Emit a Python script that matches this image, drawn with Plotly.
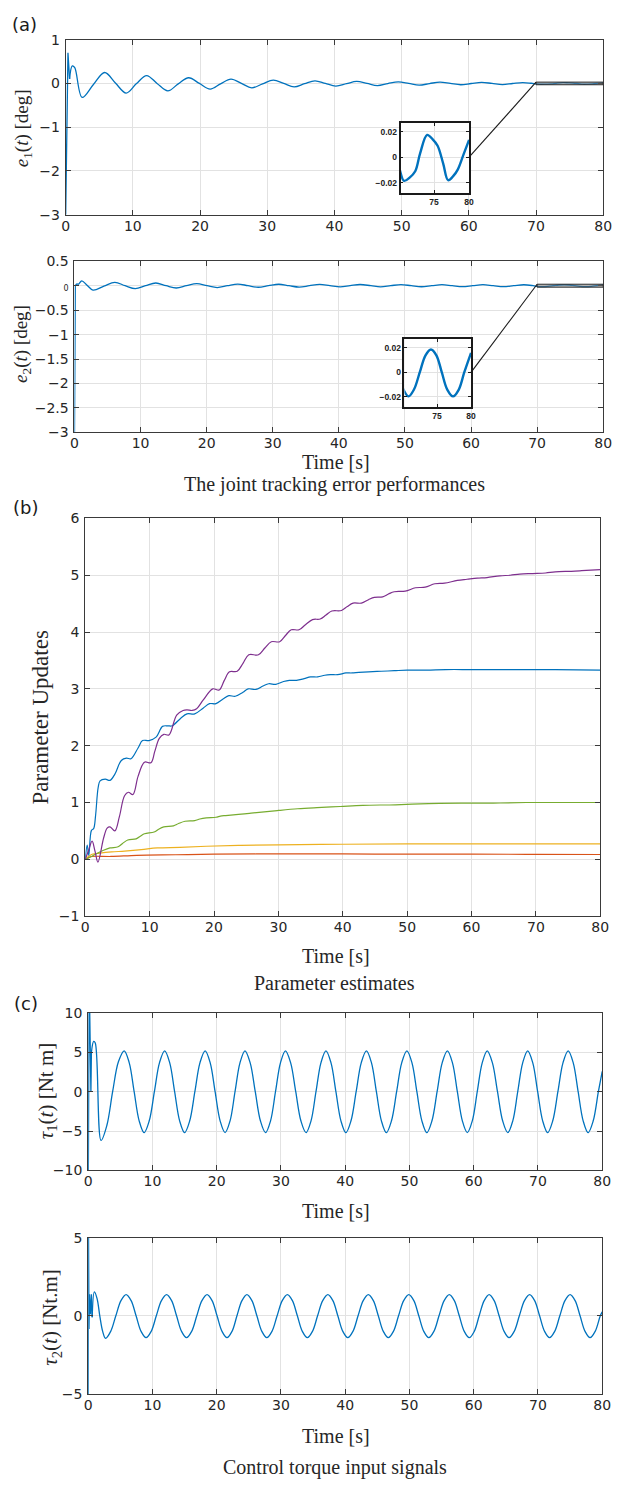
import plotly.graph_objects as go

# ------------------------------------------------------------------ data
X_TICKS = [0, 10, 20, 30, 40, 50, 60, 70, 80]

# (a) joint tracking errors  (first E*_N_LIN points = fast transient, drawn straight)
E1_T = [0.0, 0.34, 0.58,
        0.98, 1.35, 2.45, 4.1, 5.8, 7.4, 9.0, 10.5, 12.05, 13.6,
        15.2, 16.75, 18.3, 19.9, 21.5, 23.05, 24.6, 26.15, 27.7, 29.3,
        30.9, 32.45, 34.0, 35.55, 37.1, 38.65, 40.2, 41.8, 43.3, 44.85,
        46.4, 47.95, 49.5, 51.05, 52.6, 54.15, 55.7, 57.25, 58.8, 60.35,
        61.9, 63.45, 65.0, 66.5, 68.0, 69.3, 70.0, 70.7, 71.5, 72.3,
        73.0, 74.0, 74.8, 75.5, 76.3, 77.0, 77.7, 78.4, 79.2, 80.0]
E1_V = [-3.0, 0.70, 0.10,
        0.40, 0.36, -0.32, -0.03, 0.25, 0.01, -0.22, -0.01, 0.18, 0.0,
        -0.17, -0.01, 0.13, 0.0, -0.13, -0.01, 0.10, 0.0, -0.10, -0.01,
        0.075, 0.0, -0.08, -0.005, 0.06, 0.0, -0.06, -0.005, 0.045, 0.0,
        -0.05, -0.003, 0.035, 0.0, -0.04, -0.003, 0.03, 0.0, -0.03, -0.002,
        0.025, 0.0, -0.025, -0.002, 0.02, 0.004, -0.008, -0.0185, -0.016, -0.011,
        0.003, 0.0175, 0.014, 0.009, -0.005, -0.018, -0.015, -0.0095, 0.002, 0.0136]
E1_N_LIN = 3

E2_T = [0.0, 0.12, 0.35,
        0.6, 1.1, 1.9, 2.8, 4.45, 6.1, 7.65, 9.2, 10.75, 12.3,
        13.85, 15.4, 16.95, 18.5, 20.05, 21.6, 23.15, 24.7, 26.25, 27.8,
        29.35, 30.9, 32.45, 34.0, 35.55, 37.1, 38.65, 40.2, 41.7, 43.2,
        44.85, 46.3, 47.85, 49.4, 50.95, 52.5, 54.05, 55.6, 57.15, 58.7,
        60.25, 61.8, 63.35, 64.9, 66.45, 68.0, 69.4, 70.0, 70.8, 71.6,
        72.45, 73.3, 74.1, 74.9, 75.7, 76.5, 77.35, 78.2, 79.0, 80.0]
E2_V = [-3.0, 0.0, 0.04,
        0.03, 0.10, 0.01, -0.09, -0.01, 0.07, 0.0, -0.06, 0.0, 0.055,
        0.0, -0.047, 0.0, 0.042, 0.0, -0.038, 0.0, 0.034, 0.0, -0.032,
        0.0, 0.03, 0.0, -0.028, 0.0, 0.026, 0.0, -0.025, 0.0, 0.024,
        0.0, -0.023, 0.0, 0.022, 0.0, -0.021, 0.0, 0.021, 0.0, -0.02,
        0.0, 0.02, 0.0, -0.02, 0.0, 0.019, 0.0, -0.0133, -0.0196, -0.014,
        0.0, 0.014, 0.0188, 0.014, 0.0, -0.014, -0.0196, -0.014, 0.0, 0.016]
E2_N_LIN = 3

E1_Y_TICKS = [-3, -2, -1, 0, 1]
E2_Y_TICKS = [-3, -2.5, -2, -1.5, -1, -0.5, 0, 0.5]
E2_Y_TEXT = ['\u22123', '\u22122.5', '\u22122', '\u22121.5', '\u22121', '\u22120.5',
             '<span style="font-size:8px">0</span>', '0.5']
ZOOM_T_MIN = 69.0            # data shown in the insets start here
INSET_X_TICKS = [75, 80]
INSET_Y_TICKS = [-0.02, 0, 0.02]
INSET_Y_TEXT = ['\u22120.02', '0', '0.02']

# (b) parameter estimates
P1_T = [0.0, 0.3, 0.55, 0.96, 1.3, 1.6, 2.0, 2.3, 3.1, 3.85,
        4.6, 5.6, 6.4, 7.1, 8.2, 8.9, 9.9, 11.0, 12.0, 12.8,
        13.5, 14.8, 15.8, 17.0, 18.3, 19.3, 20.3, 21.4, 22.3, 23.3,
        24.5, 25.3, 26.5, 27.6, 28.5, 29.6, 30.8, 31.7, 32.8, 34.0,
        35.0, 36.1, 37.2, 38.1, 39.2, 40.5, 41.4, 42.5, 44.0, 46.0,
        48.0, 50.0, 53.0, 56.0, 60.0, 66.0, 73.0, 80.0]
P1_V = [0.0, 0.25, 0.07, 0.51, 0.54, 0.77, 1.26, 1.38, 1.41, 1.39,
        1.50, 1.74, 1.78, 1.77, 1.96, 2.09, 2.09, 2.15, 2.34, 2.35,
        2.35, 2.48, 2.56, 2.56, 2.66, 2.74, 2.74, 2.82, 2.88, 2.87,
        2.94, 3.0, 2.99, 3.05, 3.09, 3.08, 3.13, 3.15, 3.15, 3.18,
        3.21, 3.21, 3.24, 3.25, 3.25, 3.28, 3.28, 3.29, 3.30, 3.31,
        3.32, 3.33, 3.33, 3.34, 3.34, 3.34, 3.34, 3.33]
P2_T = [0.0, 0.5, 1.0, 4.0, 8.0, 14.0, 20.0, 30.0, 40.0, 50.0, 60.0, 70.0, 80.0]
P2_V = [0.0, 0.03, 0.05, 0.05, 0.07, 0.08, 0.09, 0.095, 0.095, 0.09, 0.09, 0.088, 0.085]
P3_T = [0.0, 0.5, 1.06, 2.3, 4.1, 6.1, 8.7, 11.2, 14.7, 18.8, 23.8, 30.0, 40.0, 50.0, 60.0, 70.0, 80.0]
P3_V = [0.0, 0.05, 0.09, 0.11, 0.13, 0.145, 0.17, 0.2, 0.21, 0.23, 0.245, 0.255, 0.265, 0.27, 0.27, 0.27, 0.27]
P4_T = [0.0, 0.5, 1.06, 1.5, 1.97, 2.84, 3.4, 3.85, 4.6, 5.3,
        6.1, 6.7, 7.4, 8.2, 9.2, 10.2, 10.8, 11.5, 12.2, 13.0,
        14.2, 15.2, 15.8, 16.6, 17.3, 18.3, 19.8, 20.8, 21.6, 22.4,
        23.6, 24.5, 25.4, 26.9, 27.9, 28.9, 30.2, 31.1, 32.0, 33.2,
        34.2, 35.3, 36.5, 37.4, 38.3, 39.8, 40.7, 41.6, 42.9, 44.0,
        44.9, 46.2, 47.1, 48.0, 49.7, 51.3, 52.8, 54.3, 55.8, 57.8,
        59.3, 60.9, 62.4, 64.4, 66.0, 67.5, 69.5, 71.5, 73.0, 75.5,
        77.1, 80.0]
P4_V = [0.0, 0.15, 0.32, 0.15, -0.05, 0.37, 0.55, 0.57, 0.50, 0.75,
        1.12, 1.18, 1.14, 1.46, 1.71, 1.70, 1.90, 2.13, 2.2, 2.19,
        2.54, 2.62, 2.63, 2.62, 2.65, 2.8, 3.0, 2.98, 3.15, 3.3,
        3.31, 3.45, 3.6, 3.6, 3.72, 3.83, 3.83, 3.94, 4.04, 4.04,
        4.13, 4.22, 4.23, 4.30, 4.37, 4.38, 4.45, 4.51, 4.51, 4.57,
        4.61, 4.62, 4.67, 4.71, 4.72, 4.78, 4.79, 4.85, 4.86, 4.91,
        4.93, 4.95, 4.96, 4.99, 5.0, 5.02, 5.03, 5.04, 5.06, 5.07,
        5.08, 5.10]
P5_T = [0.0, 0.8, 1.6, 2.84, 3.85, 5.1, 5.8, 6.6, 7.9, 8.6,
        9.2, 10.7, 11.4, 12.2, 13.7, 14.5, 15.5, 17.0, 17.8, 18.8,
        20.3, 21.0, 21.8, 23.8, 25.5, 27.4, 30.0, 33.0, 36.0, 39.6,
        43.1, 48.2, 53.3, 58.4, 63.4, 68.5, 74.0, 80.0]
P5_V = [0.0, 0.04, 0.09, 0.16, 0.2, 0.22, 0.28, 0.34, 0.36, 0.41,
        0.45, 0.48, 0.53, 0.57, 0.59, 0.63, 0.67, 0.68, 0.71, 0.73,
        0.74, 0.76, 0.77, 0.79, 0.81, 0.83, 0.86, 0.89, 0.91, 0.93,
        0.95, 0.96, 0.98, 0.99, 0.99, 1.0, 1.0, 1.0]
B_Y_TICKS = [-1, 0, 1, 2, 3, 4, 5, 6]

# (c) control torques (peak, eighth, zero, eighth, trough ...)
TAU1_T = [0.0, 0.15, 0.42,
          0.5, 0.85, 1.1, 2.0, 2.9, 3.8, 4.7, 5.6,
          6.38, 7.15, 7.93, 8.7, 9.5, 10.3, 11.1, 11.9,
          12.68, 13.45, 14.23, 15.0, 15.8, 16.6, 17.4, 18.2,
          18.98, 19.75, 20.53, 21.3, 22.08, 22.85, 23.63, 24.4,
          25.2, 26.0, 26.8, 27.6, 28.38, 29.15, 29.93, 30.7,
          31.5, 32.3, 33.1, 33.9, 34.68, 35.45, 36.23, 37.0,
          37.78, 38.55, 39.33, 40.1, 40.9, 41.7, 42.5, 43.3,
          44.08, 44.85, 45.63, 46.4, 47.2, 48.0, 48.8, 49.6,
          50.38, 51.15, 51.93, 52.7, 53.5, 54.3, 55.1, 55.9,
          56.68, 57.45, 58.23, 59.0, 59.78, 60.55, 61.33, 62.1,
          62.9, 63.7, 64.5, 65.3, 66.08, 66.85, 67.63, 68.4,
          69.18, 69.95, 70.73, 71.5, 72.3, 73.1, 73.9, 74.7,
          75.48, 76.25, 77.03, 77.8, 78.6, 79.4, 80.0]
TAU1_V = [-15.0, 15.0, 0.0,
          5.0, 6.4, 6.2, -6.2, -4.3, 0.0, 3.8, 5.2,
          3.7, 0.0, -3.7, -5.2, -3.7, 0.0, 3.7, 5.2,
          3.7, 0.0, -3.7, -5.2, -3.7, 0.0, 3.7, 5.2,
          3.7, 0.0, -3.7, -5.2, -3.7, 0.0, 3.7, 5.2,
          3.7, 0.0, -3.7, -5.2, -3.7, 0.0, 3.7, 5.2,
          3.7, 0.0, -3.7, -5.2, -3.7, 0.0, 3.7, 5.2,
          3.7, 0.0, -3.7, -5.2, -3.7, 0.0, 3.7, 5.2,
          3.7, 0.0, -3.7, -5.2, -3.7, 0.0, 3.7, 5.2,
          3.7, 0.0, -3.7, -5.2, -3.7, 0.0, 3.7, 5.2,
          3.7, 0.0, -3.7, -5.2, -3.7, 0.0, 3.7, 5.2,
          3.7, 0.0, -3.7, -5.2, -3.7, 0.0, 3.7, 5.2,
          3.7, 0.0, -3.7, -5.2, -3.7, 0.0, 3.7, 5.2,
          3.7, 0.0, -3.7, -5.2, -3.7, 0.0, 2.6]
TAU1_N_LIN = 4

TAU2_T = [0.0, 0.04, 0.12, 0.2, 0.35, 0.5,
          0.62, 0.96, 1.38, 1.8, 2.25, 2.7, 3.5, 4.3, 5.1, 5.9,
          6.68, 7.45, 8.23, 9.0, 9.8, 10.6, 11.4, 12.2,
          12.98, 13.75, 14.53, 15.3, 16.1, 16.9, 17.7, 18.5,
          19.28, 20.05, 20.83, 21.6, 22.38, 23.15, 23.93, 24.7,
          25.48, 26.25, 27.03, 27.8, 28.6, 29.4, 30.2, 31.0,
          31.78, 32.55, 33.33, 34.1, 34.9, 35.7, 36.5, 37.3,
          38.08, 38.85, 39.63, 40.4, 41.2, 42.0, 42.8, 43.6,
          44.38, 45.15, 45.93, 46.7, 47.5, 48.3, 49.1, 49.9,
          50.68, 51.45, 52.23, 53.0, 53.8, 54.6, 55.4, 56.2,
          56.98, 57.75, 58.53, 59.3, 60.08, 60.85, 61.63, 62.4,
          63.18, 63.95, 64.73, 65.5, 66.3, 67.1, 67.9, 68.7,
          69.48, 70.25, 71.03, 71.8, 72.6, 73.4, 74.2, 75.0,
          75.78, 76.55, 77.33, 78.1, 78.9, 79.7, 80.0]
TAU2_V = [-6.0, 6.0, -0.85, 1.38, 0.1, 1.38,
          -0.1, 1.53, 1.1, 0.0, -1.0, -1.44, -1.0, 0.0, 0.97, 1.35,
          0.97, 0.0, -1.0, -1.4, -1.0, 0.0, 0.97, 1.35,
          0.97, 0.0, -1.0, -1.4, -1.0, 0.0, 0.97, 1.35,
          0.97, 0.0, -1.0, -1.4, -1.0, 0.0, 0.97, 1.35,
          0.97, 0.0, -1.0, -1.4, -1.0, 0.0, 0.97, 1.35,
          0.97, 0.0, -1.0, -1.4, -1.0, 0.0, 0.97, 1.35,
          0.97, 0.0, -1.0, -1.4, -1.0, 0.0, 0.97, 1.35,
          0.97, 0.0, -1.0, -1.4, -1.0, 0.0, 0.97, 1.35,
          0.97, 0.0, -1.0, -1.4, -1.0, 0.0, 0.97, 1.35,
          0.97, 0.0, -1.0, -1.4, -1.0, 0.0, 0.97, 1.35,
          0.97, 0.0, -1.0, -1.4, -1.0, 0.0, 0.97, 1.35,
          0.97, 0.0, -1.0, -1.4, -1.0, 0.0, 0.97, 1.35,
          0.97, 0.0, -1.0, -1.4, -1.0, 0.0, 0.25]
TAU2_N_LIN = 7
TAU1_Y_TICKS = [-10, -5, 0, 5, 10]
TAU2_Y_TICKS = [-5, 0, 5]

# ------------------------------------------------------------------ style / layout
W, H = 622, 1487
BLUE, RED, YELLOW, PURPLE, GREEN = '#0072BD', '#D95319', '#EDB120', '#7E2F8E', '#77AC30'
FRAME = '#3a3a3a'
GRID = '#e2e2e2'
SANS = 'DejaVu Sans, Liberation Sans, sans-serif'
SERIF = 'Liberation Serif, Times New Roman, serif'
TICK_FONT = dict(family=SANS, size=14, color='#262626')
INSET_FONT = dict(family='Liberation Sans, Arial, sans-serif', size=8.5, color='#222222', weight='bold')

# plot boxes in pixels: left, right, top, bottom
BOX = {
    'e1': (63, 612, 32, 209),
    'e2': (72, 612, 256, 429),
    'b': (83, 609, 516, 918),
    'c1': (86, 611, 1016, 1175),
    'c2': (86, 611, 1243, 1401),
    'i1': (405, 475, 116, 187),
    'i2': (409, 477, 335, 403),
}
XR = [0, 80]
INSET_XR = [70.2, 80]
INSET_YR = [-0.028, 0.027]
ZOOM_BOX = (70, 80, -0.03, 0.03)


def dom(box):
    l, r, t, b = box
    return [l / W, r / W], [1 - b / H, 1 - t / H]


def to_px(box, xr, yr, x, y):
    l, r, t, b = box
    return (l + (x - xr[0]) / (xr[1] - xr[0]) * (r - l),
            b - (y - yr[0]) / (yr[1] - yr[0]) * (b - t))


def axis(domain, rng, tickvals, anchor, ticktext=None, font=TICK_FONT,
         frame=FRAME, lw=1.0, ticklen=5, standoff=0):
    d = dict(domain=domain, range=rng, tickmode='array', tickvals=tickvals,
             showline=True, mirror='ticks', linecolor=frame, linewidth=lw,
             ticks='inside', ticklen=ticklen, tickwidth=1, tickcolor=frame,
             showgrid=True, gridcolor=GRID, gridwidth=1, zeroline=False,
             tickfont=font, anchor=anchor, fixedrange=True,
             ticklabelstandoff=standoff)
    if ticktext is not None:
        d['ticktext'] = ticktext
    return d


fig = go.Figure()


def line(x, y, xa, ya, color, width=1.3, shape='linear'):
    fig.add_trace(go.Scatter(x=x, y=y, mode='lines', xaxis=xa, yaxis=ya,
                             line=dict(color=color, width=width, shape=shape,
                                       smoothing=1.0 if shape == 'spline' else None),
                             hoverinfo='skip', showlegend=False))


def split_line(t, v, n_lin, xa, ya, color, width=1.3):
    line(t[:n_lin], v[:n_lin], xa, ya, color, width)
    line(t[n_lin - 1:], v[n_lin - 1:], xa, ya, color, width, 'spline')


# (a)
split_line(E1_T, E1_V, E1_N_LIN, 'x', 'y', BLUE)
split_line(E2_T, E2_V, E2_N_LIN, 'x2', 'y2', BLUE)
# (b)
line(P2_T, P2_V, 'x3', 'y3', RED, 1.2, 'spline')
line(P3_T, P3_V, 'x3', 'y3', YELLOW, 1.2, 'spline')
line(P5_T, P5_V, 'x3', 'y3', GREEN, 1.2, 'spline')
line(P1_T, P1_V, 'x3', 'y3', BLUE, 1.2, 'spline')
line(P4_T, P4_V, 'x3', 'y3', PURPLE, 1.2, 'spline')
# (c)
split_line(TAU1_T, TAU1_V, TAU1_N_LIN, 'x4', 'y4', BLUE)
split_line(TAU2_T, TAU2_V, TAU2_N_LIN, 'x5', 'y5', BLUE)
# insets
i1 = [k for k, t in enumerate(E1_T) if t >= ZOOM_T_MIN]
i2 = [k for k, t in enumerate(E2_T) if t >= ZOOM_T_MIN]
line([E1_T[k] for k in i1], [E1_V[k] for k in i1], 'x6', 'y6', BLUE, 2.4, 'spline')
line([E2_T[k] for k in i2], [E2_V[k] for k in i2], 'x7', 'y7', BLUE, 2.4, 'spline')

layout = dict(width=W, height=H, margin=dict(l=0, r=0, t=0, b=0),
              paper_bgcolor='white', plot_bgcolor='white', showlegend=False)

specs = [
    ('', 'e1', [-3, 1], E1_Y_TICKS, None),
    ('2', 'e2', [-3, 0.5], E2_Y_TICKS, E2_Y_TEXT),
    ('3', 'b', [-1, 6], B_Y_TICKS, None),
    ('4', 'c1', [-10, 10], TAU1_Y_TICKS, None),
    ('5', 'c2', [-5, 5], TAU2_Y_TICKS, None),
]
for sfx, key, yr, yt, ytt in specs:
    dx, dy = dom(BOX[key])
    layout['xaxis' + sfx] = axis(dx, XR, X_TICKS, 'y' + sfx, standoff=-2)
    layout['yaxis' + sfx] = axis(dy, yr, yt, 'x' + sfx, ytt, standoff=2)

for sfx, key in (('6', 'i1'), ('7', 'i2')):
    dx, dy = dom(BOX[key])
    layout['xaxis' + sfx] = axis(dx, INSET_XR, INSET_X_TICKS, 'y' + sfx, font=INSET_FONT,
                                 frame='#1a1a1a', lw=1.6, ticklen=3)
    layout['yaxis' + sfx] = axis(dy, INSET_YR, INSET_Y_TICKS, 'x' + sfx, INSET_Y_TEXT,
                                 font=INSET_FONT, frame='#1a1a1a', lw=1.6, ticklen=3)

# zoom rectangles and connector lines
shapes = []
for main_sfx, main_key, yr, ins_key in (('', 'e1', [-3, 1], 'i1'), ('2', 'e2', [-3, 0.5], 'i2')):
    x0, x1, y0, y1 = ZOOM_BOX
    shapes.append(dict(type='rect', xref='x' + main_sfx, yref='y' + main_sfx,
                       x0=x0, x1=x1, y0=y0, y1=y1, layer='above',
                       line=dict(color='#2a2a2a', width=1), fillcolor='rgba(120,120,120,0.45)'))
    sx, sy = to_px(BOX[ins_key], INSET_XR, INSET_YR, INSET_XR[1], 0)
    ex, ey = to_px(BOX[main_key], XR, yr, x0, y1)
    shapes.append(dict(type='line', xref='paper', yref='paper',
                       x0=sx / W, y0=1 - sy / H, x1=ex / W, y1=1 - ey / H,
                       line=dict(color='#1a1a1a', width=1.1), layer='above'))
layout['shapes'] = shapes


def ann(text, x, y, font, size, angle=0, color='#262626'):
    return dict(text=text, x=x / W, y=1 - y / H, xref='paper', yref='paper',
                xanchor='center', yanchor='middle', showarrow=False, textangle=angle,
                font=dict(family=font, size=size, color=color))


layout['annotations'] = [
    ann('(a)', 21, 17, SANS, 18, color='#1a1a1a'),
    ann('(b)', 22, 505, SANS, 18, color='#1a1a1a'),
    ann('(c)', 22, 1006, SANS, 18, color='#1a1a1a'),
    ann('<i>e</i><sub>1</sub>(<i>t</i>) [deg]', 19, 122, SERIF, 19, -90),
    ann('<i>e</i><sub>2</sub>(<i>t</i>) [deg]', 19, 340, SERIF, 19, -90),
    ann('Time [s]', 339, 459, SERIF, 20),
    ann('The joint tracking error performances', 338, 482, SERIF, 20),
    ann('Parameter Updates', 37, 717, SERIF, 23, -90),
    ann('Time [s]', 339, 958, SERIF, 20),
    ann('Parameter estimates', 338, 986, SERIF, 20),
    ann('<i>\u03c4</i><sub>1</sub>(<i>t</i>) [Nt m]', 44, 1095, SERIF, 21, -90),
    ann('Time [s]', 339, 1216, SERIF, 20),
    ann('<i>\u03c4</i><sub>2</sub>(<i>t</i>) [Nt.m]', 48, 1323, SERIF, 21, -90),
    ann('Time [s]', 339, 1444, SERIF, 20),
    ann('Control torque input signals', 338, 1475, SERIF, 20),
]

fig.update_layout(**layout)
fig.write_html('out.html', config={'displayModeBar': False})
